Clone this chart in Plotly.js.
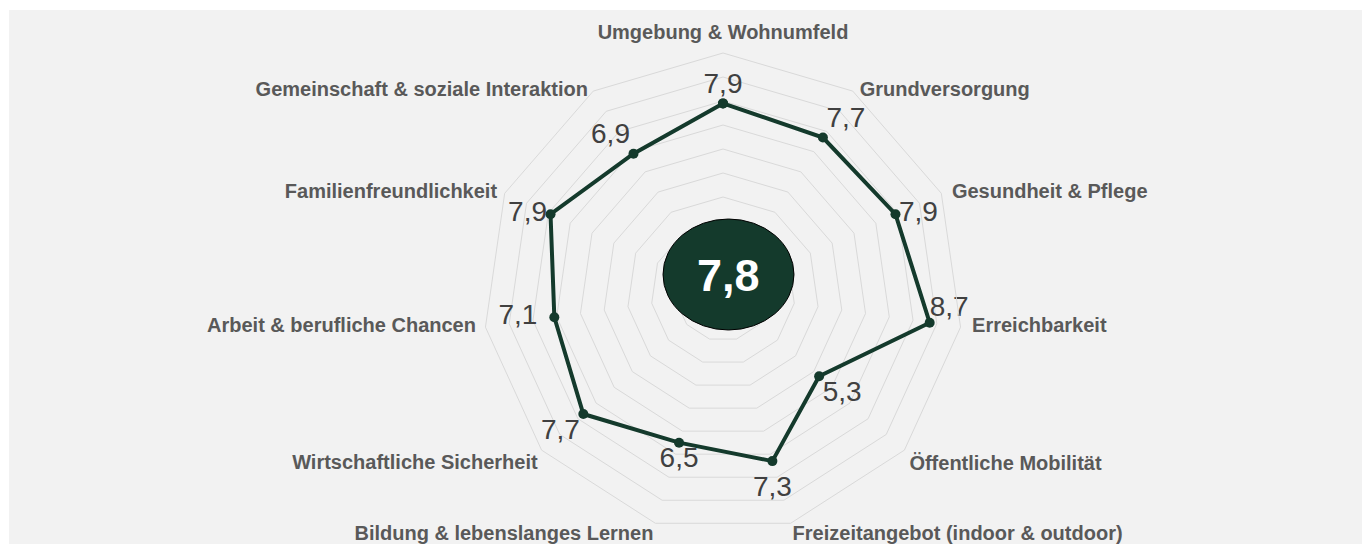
<!DOCTYPE html>
<html>
<head>
<meta charset="utf-8">
<script src="https://cdn.plot.ly/plotly-3.0.1.min.js"></script>
<style>
html,body{margin:0;padding:0;background:#ffffff;}
#chart{width:1362px;height:544px;}
</style>
</head>
<body>
<div id="chart"></div>
<script>
const categories = [
  "Umgebung & Wohnumfeld",
  "Grundversorgung",
  "Gesundheit & Pflege",
  "Erreichbarkeit",
  "Öffentliche Mobilität",
  "Freizeitangebot (indoor & outdoor)",
  "Bildung & lebenslanges Lernen",
  "Wirtschaftliche Sicherheit",
  "Arbeit & berufliche Chancen",
  "Familienfreundlichkeit",
  "Gemeinschaft & soziale Interaktion"
];
const scores = [7.9, 7.7, 7.9, 8.7, 5.3, 7.3, 6.5, 7.7, 7.1, 7.9, 6.9];
const overallScore = 7.8;
const radialMax = 10;

// label placement (style only)
const valuePositions = ["top center","top right","middle right","top right","bottom right","bottom center","bottom center","bottom left","middle left","middle left","top left"];
const valueGap = [4, 4, 4, 0, 4, 20, 4, 4, 25.6, 4, 4];
const namePositions = ["top center","middle right","middle right","middle right","bottom right","bottom right","bottom left","bottom left","middle left","middle left","middle left"];
const nameGap = [12.8, 9.6, 15.4, 16.8, 6.4, 1.6, 1.6, 4.8, 13.6, 10.6, 6.9];

const fmt = v => v.toFixed(1).replace('.', ',');
const rClosed = scores.concat([scores[0]]);
const thetaClosed = categories.concat([categories[0]]);

const green = "#143a2c";
const grid = "#d9d9d9";
const fontFam = "Liberation Sans, Arial, sans-serif";

const lineTrace = {
  type: "scatterpolar",
  r: rClosed,
  theta: thetaClosed,
  mode: "lines+markers",
  line: {color: green, width: 4},
  marker: {color: green, size: 10, line: {width: 0}},
  cliponaxis: false,
  hoverinfo: "skip",
  showlegend: false
};

const valueTrace = {
  type: "scatterpolar",
  r: scores,
  theta: categories,
  mode: "markers+text",
  text: scores.map(fmt),
  textposition: valuePositions,
  textfont: {family: fontFam, size: 28, color: "#404040"},
  marker: {color: "rgba(0,0,0,0)", size: valueGap, line: {width: 0, color: "rgba(0,0,0,0)"}},
  cliponaxis: false,
  hoverinfo: "skip",
  showlegend: false
};

const nameTrace = {
  type: "scatterpolar",
  r: categories.map(() => radialMax),
  theta: categories,
  mode: "markers+text",
  text: categories,
  textposition: namePositions,
  textfont: {family: fontFam, size: 20, color: "#595959", weight: 700},
  marker: {color: "rgba(0,0,0,0)", size: nameGap, line: {width: 0, color: "rgba(0,0,0,0)"}},
  cliponaxis: false,
  hoverinfo: "skip",
  showlegend: false
};

const layout = {
  width: 1362,
  height: 544,
  margin: {l: 0, r: 0, t: 0, b: 0},
  paper_bgcolor: "#ffffff",
  separators: ",.",
  showlegend: false,
  shapes: [
    {type: "rect", xref: "paper", yref: "paper", x0: 9/1362, x1: 1, y0: 0, y1: 1 - 10/544,
     fillcolor: "#f2f2f2", line: {width: 0}, layer: "below"},
    {type: "circle", xref: "paper", yref: "paper",
     x0: 663/1362, x1: 794/1362, y0: 1 - 330/544, y1: 1 - 219/544,
     fillcolor: green, line: {color: "#000000", width: 1}, layer: "above"}
  ],
  annotations: [
    {xref: "paper", yref: "paper", x: 728.5/1362, y: 1 - 275/544,
     text: fmt(overallScore), showarrow: false,
     xanchor: "center", yanchor: "middle",
     font: {family: fontFam, size: 45, color: "#ffffff", weight: 700}}
  ],
  polar: {
    domain: {x: [483/1362, 963/1362], y: [1 - 533/544, 1 - 53/544]},
    bgcolor: "rgba(0,0,0,0)",
    gridshape: "linear",
    radialaxis: {
      range: [0, radialMax], dtick: 1, showticklabels: false, ticks: "",
      showline: false, gridcolor: grid, gridwidth: 1
    },
    angularaxis: {
      direction: "clockwise", rotation: 90,
      showgrid: false, showline: true, linecolor: grid, linewidth: 1,
      ticks: "", showticklabels: false
    }
  }
};

Plotly.newPlot("chart", [lineTrace, valueTrace, nameTrace], layout, {displayModeBar: false, staticPlot: true});
</script>
</body>
</html>
